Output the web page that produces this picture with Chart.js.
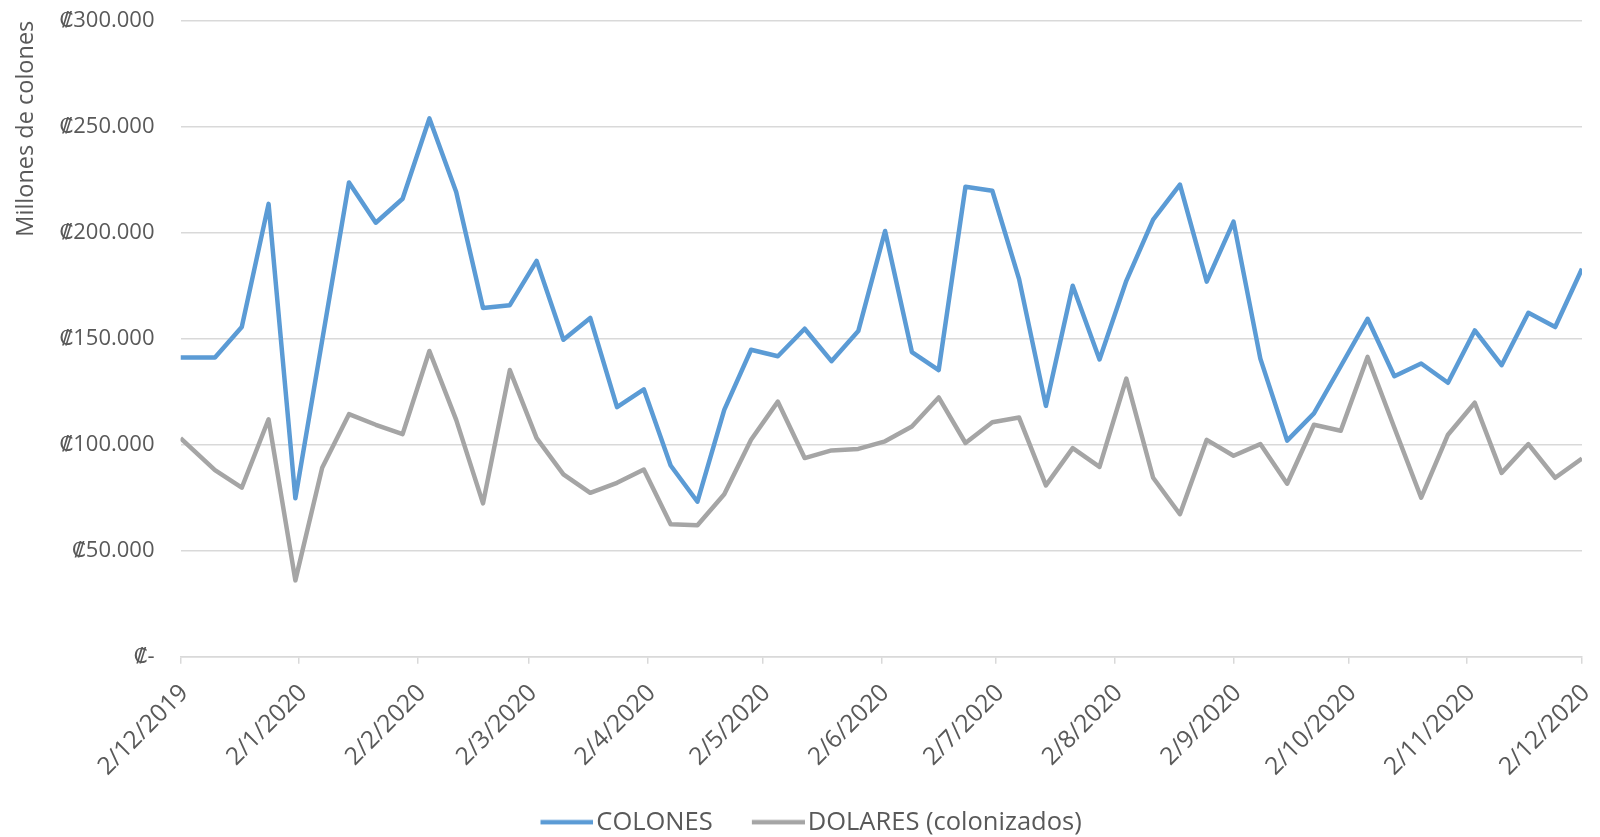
<!DOCTYPE html>
<html>
<head>
<meta charset="utf-8">
<script src="https://cdn.jsdelivr.net/npm/chart.js@4.4.1/dist/chart.umd.min.js"></script>
<style>
  html, body { margin: 0; padding: 0; background: #ffffff; }
  canvas { display: block; }
</style>
</head>
<body>
<canvas id="c" width="1600" height="837"></canvas>
<script>
// ---- data (millones de colones) ----
const dates = [
  "2019-12-02","2019-12-11","2019-12-18","2019-12-25",
  "2020-01-01","2020-01-08","2020-01-15","2020-01-22","2020-01-29",
  "2020-02-05","2020-02-12","2020-02-19","2020-02-26",
  "2020-03-04","2020-03-11","2020-03-18","2020-03-25",
  "2020-04-01","2020-04-08","2020-04-15","2020-04-22","2020-04-29",
  "2020-05-06","2020-05-13","2020-05-20","2020-05-27",
  "2020-06-03","2020-06-10","2020-06-17","2020-06-24",
  "2020-07-01","2020-07-08","2020-07-15","2020-07-22","2020-07-29",
  "2020-08-05","2020-08-12","2020-08-19","2020-08-26",
  "2020-09-02","2020-09-09","2020-09-16","2020-09-23","2020-09-30",
  "2020-10-07","2020-10-14","2020-10-21","2020-10-28",
  "2020-11-04","2020-11-11","2020-11-18","2020-11-25",
  "2020-12-02"
];
const colones = [
  141100,141100,155500,213600,74700,149200,223700,204700,216000,
  253900,219200,164500,165800,186700,149500,159800,117700,
  126100,90200,73100,116400,144800,141700,154700,139400,153600,
  200800,143700,135200,221700,219800,178100,118300,175000,140200,
  177300,206200,222700,176900,205200,140600,101900,114800,137000,
  159400,132300,138300,129200,153900,137500,162200,155500,183000
];
const dolares = [
  103100,88000,79700,112000,36000,89100,114400,109400,105000,
  144200,111700,72300,135200,103100,86000,77300,82000,
  88300,62500,62000,76600,102300,120300,93700,97300,98000,
  101600,108600,122300,100800,110600,112800,80800,98400,89500,
  131200,84400,67200,102300,94800,100300,81600,109400,106600,
  141400,108000,75000,104700,119800,86700,100300,84400,93500
];
const tickDates = [
  "2019-12-02","2020-01-02","2020-02-02","2020-03-02","2020-04-02","2020-05-02",
  "2020-06-02","2020-07-02","2020-08-02","2020-09-02","2020-10-02","2020-11-02","2020-12-02"
];
const tickLabels = [
  "2/12/2019","2/1/2020","2/2/2020","2/3/2020","2/4/2020","2/5/2020",
  "2/6/2020","2/7/2020","2/8/2020","2/9/2020","2/10/2020","2/11/2020","2/12/2020"
];
const seriesNames = ["COLONES", "DOLARES (colonizados)"];
const yAxisTitle = "Millones de colones";

// ---- helpers ----
const origin = Date.UTC(2019, 11, 2);
function dayOf(s) {
  const p = s.split("-").map(Number);
  return (Date.UTC(p[0], p[1] - 1, p[2]) - origin) / 86400000;
}
function fmt(v) {
  if (v === 0) return "\u20A1-";
  return "\u20A1" + String(v).replace(/\B(?=(\d{3})+(?!\d))/g, ".");
}
// legend symbol: a short thick line placed at the right of a transparent strip
function legendLine(color) {
  const c = document.createElement("canvas");
  c.width = 92; c.height = 6;
  const g = c.getContext("2d");
  g.fillStyle = color;
  g.fillRect(39, 0.75, 53, 4.5);
  return c;
}
const tickDays = tickDates.map(dayOf);

const PAD_LEFT = 11;
const PLOT_LEFT = 180.5;
const PLOT_BOTTOM = 656.7;
const PAD_BOTTOM = -8;
const TXT = "#595959";
const GRID = "#d9d9d9";
const BLUE = "#5B9BD5";
const GRAY = "#A5A5A5";
const FONT = "'Open Sans', 'DejaVu Sans', sans-serif";

new Chart(document.getElementById("c"), {
  type: "line",
  data: {
    datasets: [
      {
        label: seriesNames[0],
        data: dates.map((d, i) => ({ x: dayOf(d), y: colones[i] })),
        borderColor: BLUE,
        backgroundColor: BLUE,
        borderWidth: 4.5,
        pointRadius: 0,
        pointStyle: legendLine(BLUE),
        tension: 0,
        borderJoinStyle: "round"
      },
      {
        label: seriesNames[1],
        data: dates.map((d, i) => ({ x: dayOf(d), y: dolares[i] })),
        borderColor: GRAY,
        backgroundColor: GRAY,
        borderWidth: 4.5,
        pointRadius: 0,
        pointStyle: legendLine(GRAY),
        tension: 0,
        borderJoinStyle: "round"
      }
    ]
  },
  options: {
    responsive: false,
    animation: false,
    devicePixelRatio: 1,
    layout: { padding: { top: 20.7, right: 18, bottom: PAD_BOTTOM, left: PAD_LEFT } },
    plugins: {
      tooltip: { enabled: false },
      legend: {
        position: "bottom",
        labels: {
          usePointStyle: true,
          pointStyleWidth: 72.25,
          padding: 10,
          color: TXT,
          font: { family: FONT, size: 25.5 }
        }
      }
    },
    scales: {
      x: {
        type: "linear",
        min: 0,
        max: dayOf(tickDates[tickDates.length - 1]),
        afterBuildTicks: (s) => { s.ticks = tickDays.map(v => ({ value: v })); },
        afterFit: (s) => {
          s.paddingLeft = 0; s.paddingRight = 0;
          s.height = s.chart.height - PLOT_BOTTOM - s.chart.legend.height - PAD_BOTTOM;
        },
        ticks: {
          autoSkip: false,
          minRotation: 45,
          maxRotation: 45,
          padding: 15,
          labelOffset: 4,
          color: TXT,
          font: { family: FONT, size: 24.5 },
          callback: (v, i) => tickLabels[i]
        },
        grid: { display: true, drawOnChartArea: false, drawTicks: true, tickLength: 7, color: GRID, lineWidth: 1.5 },
        border: { display: true, color: GRID, width: 1.5 }
      },
      y: {
        min: 0,
        max: 300000,
        afterFit: (s) => { s.width = PLOT_LEFT - PAD_LEFT; s.paddingTop = 0; s.paddingBottom = 0; },
        ticks: {
          stepSize: 50000,
          padding: 26,
          color: TXT,
          font: { family: FONT, size: 22 },
          callback: (v) => fmt(v)
        },
        grid: { color: GRID, lineWidth: 1.5, drawTicks: false },
        border: { display: false },
        title: {
          display: true,
          text: yAxisTitle,
          align: "end",
          color: TXT,
          font: { family: FONT, size: 23.5 },
          padding: { top: 1, bottom: 0 }
        }
      }
    }
  }
});
</script>
</body>
</html>
